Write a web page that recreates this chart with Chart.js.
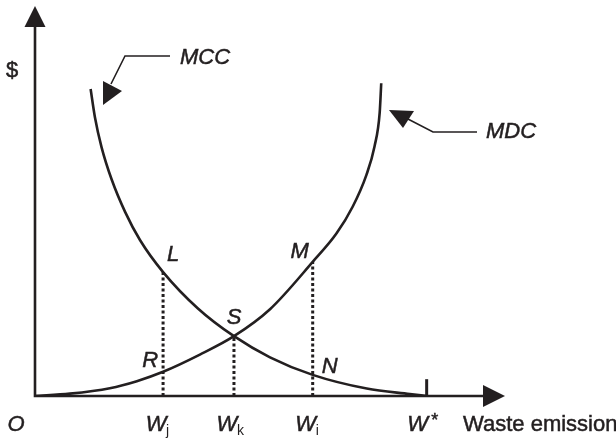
<!DOCTYPE html>
<html>
<head>
<meta charset="utf-8">
<script src="https://cdn.jsdelivr.net/npm/chart.js@4"></script>
<style>
  html, body { margin: 0; padding: 0; background: #fff; }
  #wrap { width: 616px; height: 438px; }
</style>
</head>
<body>
<div id="wrap"><canvas id="chart"></canvas></div>
<script>
// curve data (x = waste emission, y = $)
const mccX = [1.42, 1.53, 1.70, 1.96, 2.30, 2.68, 3.27, 4.16, 5.08, 6.00, 7.09, 8.47, 9.57, 10.0];
const mccY = [7.85, 7.13, 6.36, 5.53, 4.71, 3.99, 3.17, 2.24, 1.53, 0.99, 0.54, 0.19, 0.05, 0];
const mdcX = [0, 0.89, 1.91, 2.60, 3.27, 4.21, 5.08, 6.00, 7.09, 7.70, 8.11, 8.46, 8.67, 8.80, 8.84];
const mdcY = [0, 0.06, 0.20, 0.38, 0.62, 1.06, 1.53, 2.22, 3.43, 4.16, 4.84, 5.65, 6.39, 7.24, 8.00];

// dotted guides at Wj, Wk, Wi
const guideX = [3.27, 5.08, 7.09];
const guideTop = [3.17, 1.53, 3.43];
const guideSub = ['j', 'k', 'i'];

const wStar = 10;
const wStarTick = 0.43;

const ink = '#231f20';

const toPts = (xs, ys) => xs.map((x, i) => ({ x: x, y: ys[i] }));

const datasets = [
    { data: toPts(mccX, mccY) },
    { data: toPts(mdcX, mdcY) }
].map(d => Object.assign(d, {
    showLine: true, borderColor: ink, borderWidth: 2.6, pointRadius: 0,
    cubicInterpolationMode: 'monotone', fill: false
}));

guideX.forEach((x, i) => {
    datasets.push({
        data: [{ x: x, y: 0 }, { x: x, y: guideTop[i] }],
        showLine: true, borderColor: ink, borderWidth: 3,
        borderDash: [3, 2.5], pointRadius: 0
    });
});
datasets.push({
    data: [{ x: wStar, y: 0 }, { x: wStar, y: wStarTick }],
    showLine: true, borderColor: ink, borderWidth: 3, pointRadius: 0
});

const tri = (ctx, pts) => {
    ctx.beginPath();
    ctx.moveTo(pts[0][0], pts[0][1]);
    pts.slice(1).forEach(p => ctx.lineTo(p[0], p[1]));
    ctx.closePath();
    ctx.fill();
};

// text with a hairline stroke so it reads a little heavier
const txt = (ctx, s, x, y) => {
    ctx.fillText(s, x, y);
    ctx.strokeText(s, x, y);
};

const decor = {
    id: 'decor',
    afterDatasetsDraw(chart) {
        const ctx = chart.ctx;
        const xs = chart.scales.x, ys = chart.scales.y;
        const px = v => xs.getPixelForValue(v);
        const py = v => ys.getPixelForValue(v);
        const ox = px(0), oy = py(0);
        ctx.save();
        ctx.strokeStyle = ink;
        ctx.fillStyle = ink;
        ctx.lineWidth = 2.6;

        // axes
        ctx.beginPath();
        ctx.moveTo(ox, 26);
        ctx.lineTo(ox, oy);
        ctx.lineTo(484, oy);
        ctx.stroke();
        tri(ctx, [[ox, 6], [ox - 10.5, 27], [ox + 10.5, 27]]);
        tri(ctx, [[505, oy], [483, oy - 11], [483, oy + 11]]);

        // leader arrows
        ctx.lineWidth = 1.6;
        ctx.beginPath();
        ctx.moveTo(170, 56);
        ctx.lineTo(125, 56);
        ctx.lineTo(111, 84);
        ctx.stroke();
        tri(ctx, [[103, 81], [122, 91], [103, 105]]);
        ctx.beginPath();
        ctx.moveTo(477, 132);
        ctx.lineTo(433, 132);
        ctx.lineTo(406, 118);
        ctx.stroke();
        tri(ctx, [[389, 110], [414, 111], [403, 128]]);

        ctx.lineWidth = 0.5;
        ctx.textAlign = 'center';
        ctx.textBaseline = 'middle';
        const it = 'italic 22px "Liberation Sans", Arial, sans-serif';
        const rg = '22px "Liberation Sans", Arial, sans-serif';
        const sm = '14px "Liberation Sans", Arial, sans-serif';

        ctx.font = it;
        txt(ctx, 'MCC', 205, 58);
        txt(ctx, 'MDC', 511, 132);
        txt(ctx, 'O', 16, 425);

        ctx.font = rg;
        txt(ctx, '$', 12, 71);
        ctx.textAlign = 'left';
        txt(ctx, 'Waste emission', 463, 425);

        // x labels
        guideX.forEach((x, i) => {
            const gx = px(x);
            ctx.textAlign = 'center';
            ctx.font = it;
            txt(ctx, 'W', gx - 7, 425);
            ctx.font = sm;
            ctx.textAlign = 'left';
            ctx.fillText(guideSub[i], gx + 3, 431);
        });
        ctx.textAlign = 'center';
        ctx.font = it;
        txt(ctx, 'W', px(wStar) - 9, 425);
        ctx.font = '18px "Liberation Sans", Arial, sans-serif';
        txt(ctx, '*', px(wStar) + 8, 421);

        // point letters
        ctx.font = it;
        const pts = [
            ['L', guideX[0], guideTop[0], 10, -17],
            ['M', guideX[2], guideTop[2], -13, -10],
            ['S', guideX[1], guideTop[1], 0, -18],
            ['R', mdcX[4], mdcY[4], -13, -11],
            ['N', mccX[10], mccY[10], 17, -8]
        ];
        pts.forEach(p => txt(ctx, p[0], px(p[1]) + p[3], py(p[2]) + p[4]));
        ctx.restore();
    }
};

new Chart(document.getElementById('chart'), {
    type: 'scatter',
    data: { datasets: datasets },
    options: {
        responsive: true,
        maintainAspectRatio: false,
        animation: false,
        layout: { padding: { left: 35, right: 111, top: 5, bottom: 42 } },
        plugins: { legend: { display: false }, tooltip: { enabled: false } },
        scales: {
            x: { type: 'linear', min: 0, max: 12, display: false },
            y: { type: 'linear', min: 0, max: 10, display: false }
        }
    },
    plugins: [decor]
});
</script>
</body>
</html>
